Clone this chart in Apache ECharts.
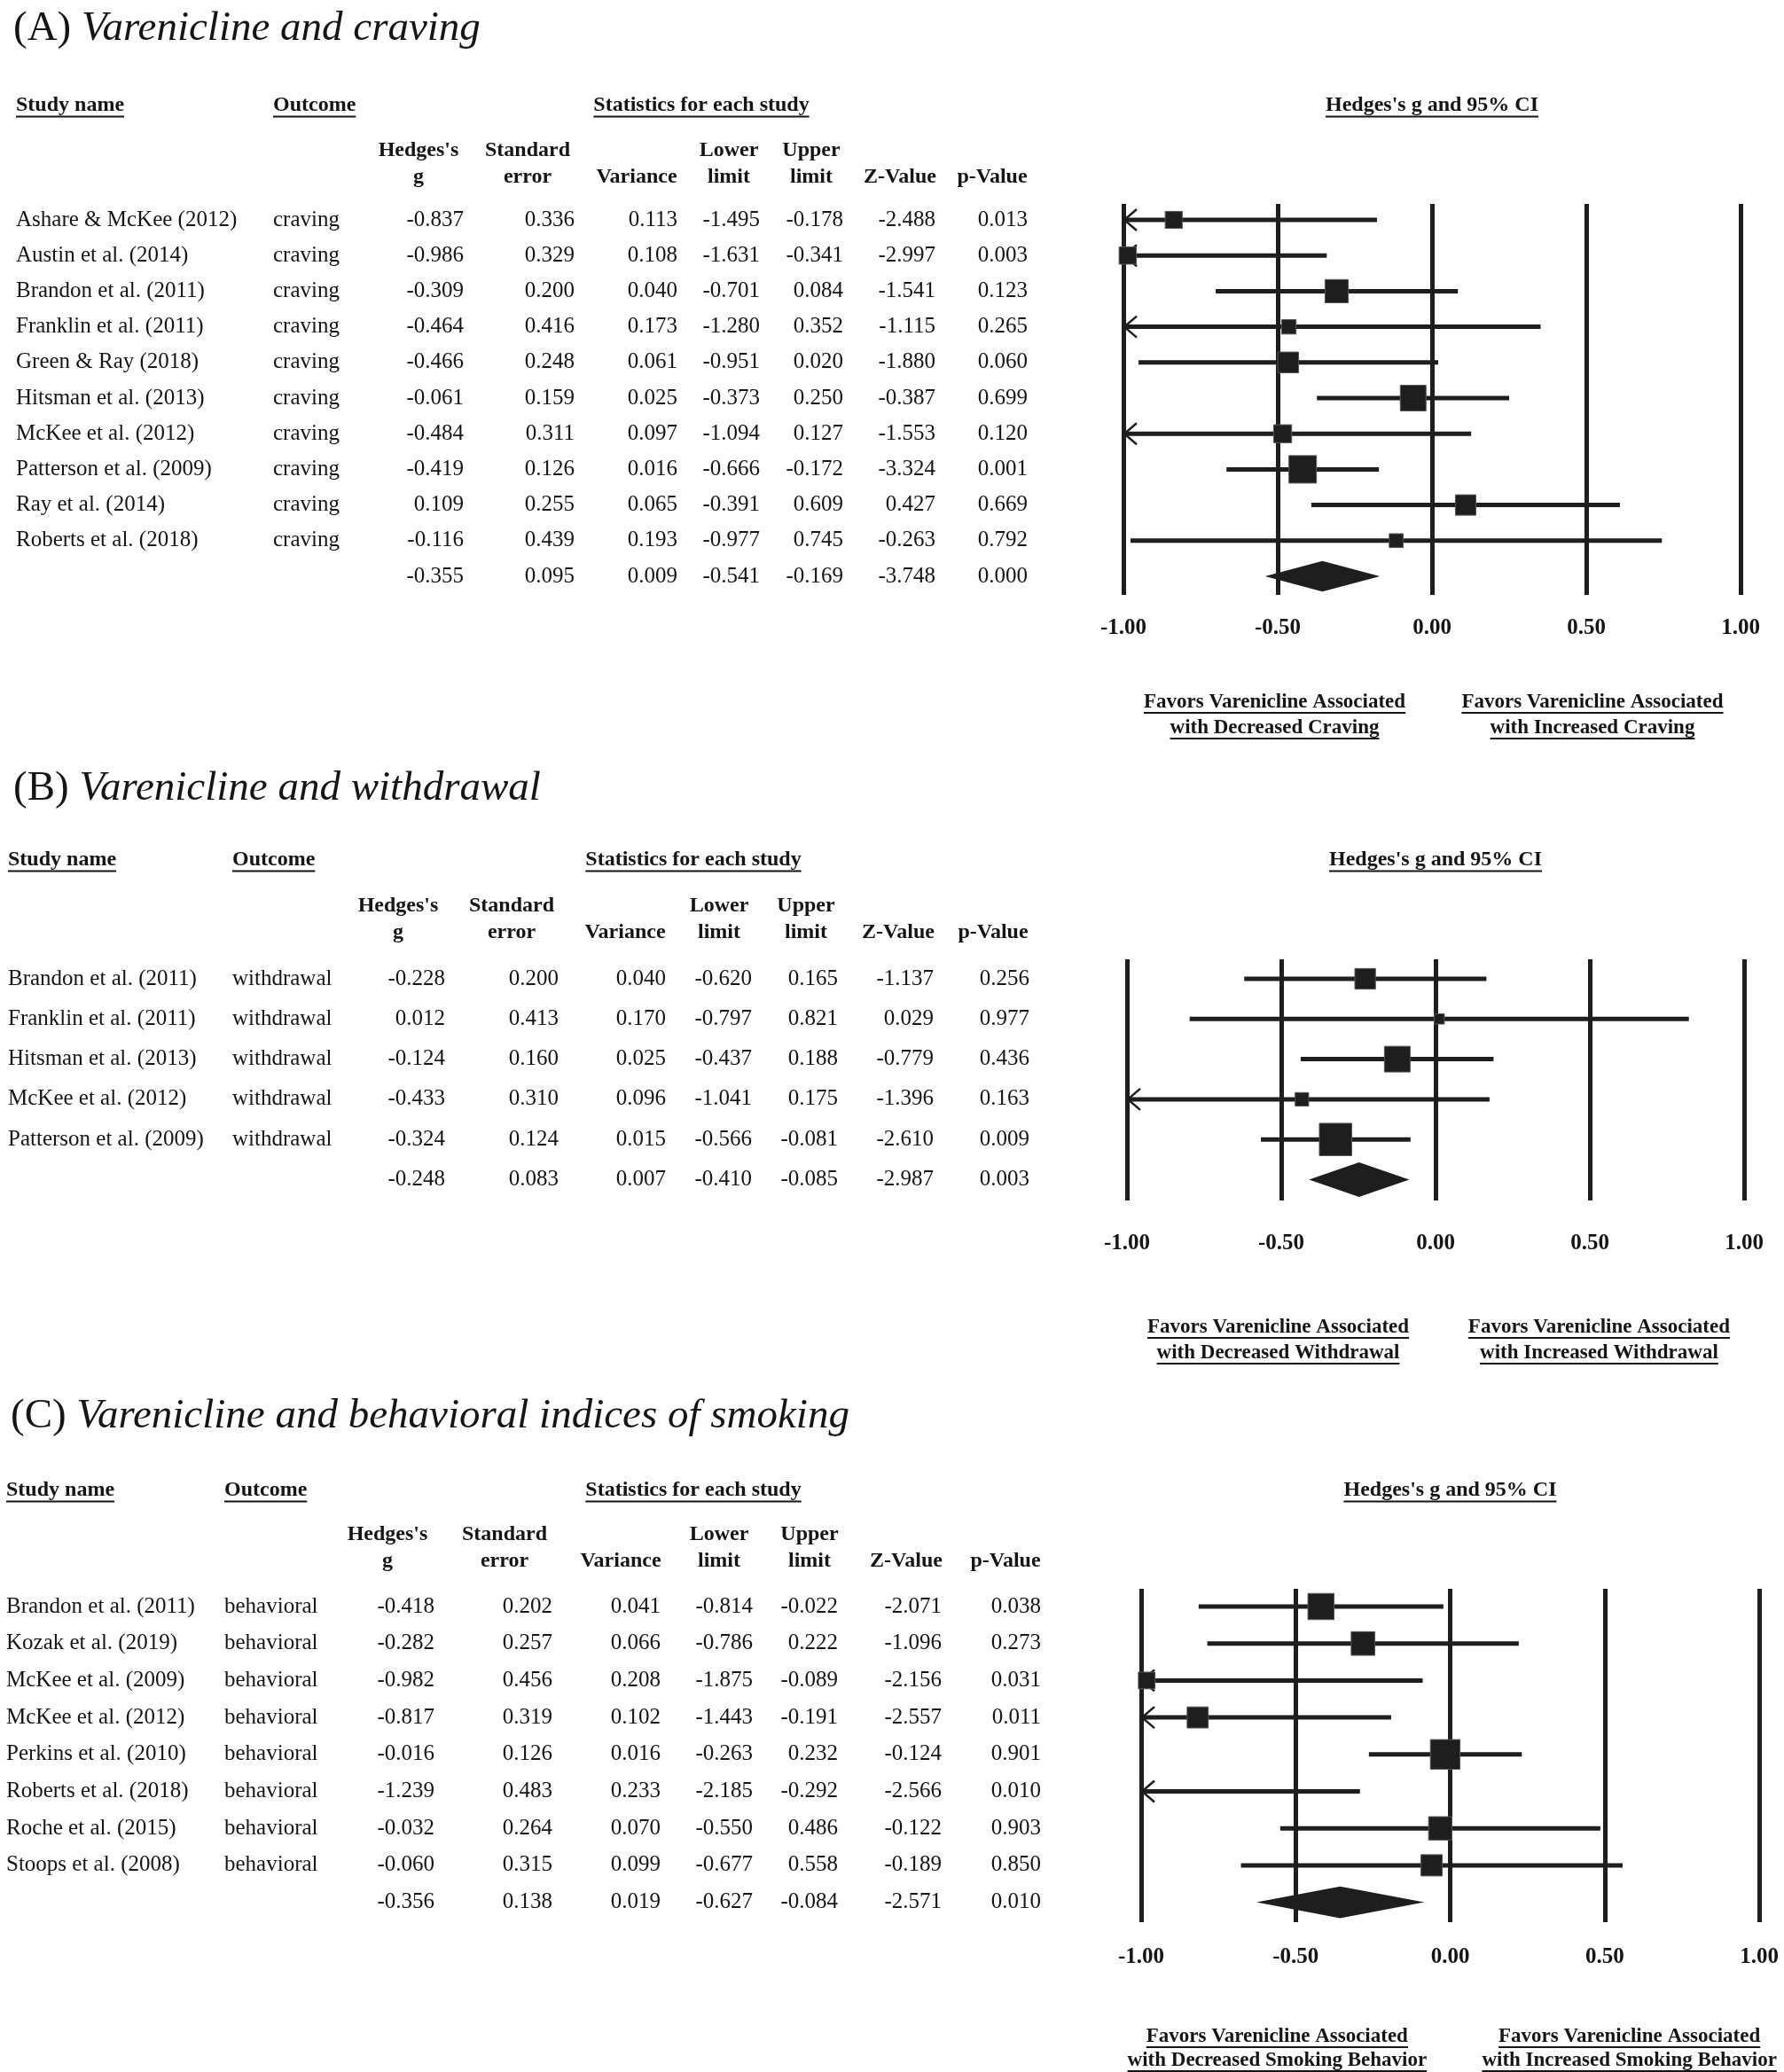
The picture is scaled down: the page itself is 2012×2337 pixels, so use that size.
<!DOCTYPE html>
<html><head><meta charset="utf-8">
<script src="https://cdn.jsdelivr.net/npm/echarts@6/dist/echarts.min.js"></script>
<style>html,body{margin:0;padding:0;background:#fff}#c{width:2012px;height:2337px}</style>
</head><body><div id="c"></div>
<script>
// ---------------- DATA ----------------
const colHeadLine1 = ["Hedges's", 'Standard', '', 'Lower', 'Upper', '', ''];
const colHeadLine2 = ['g', 'error', 'Variance', 'limit', 'limit', 'Z-Value', 'p-Value'];
const forestTicks = [-1, -0.5, 0, 0.5, 1];

// (A) craving
const studiesA = ['Ashare & McKee (2012)', 'Austin et al. (2014)', 'Brandon et al. (2011)', 'Franklin et al. (2011)', 'Green & Ray (2018)', 'Hitsman et al. (2013)', 'McKee et al. (2012)', 'Patterson et al. (2009)', 'Ray et al. (2014)', 'Roberts et al. (2018)'];
const outcomeA = ['craving', 'craving', 'craving', 'craving', 'craving', 'craving', 'craving', 'craving', 'craving', 'craving'];
const gA   = [-0.837, -0.986, -0.309, -0.464, -0.466, -0.061, -0.484, -0.419, 0.109, -0.116];
const seA  = [0.336, 0.329, 0.200, 0.416, 0.248, 0.159, 0.311, 0.126, 0.255, 0.439];
const varA = [0.113, 0.108, 0.040, 0.173, 0.061, 0.025, 0.097, 0.016, 0.065, 0.193];
const llA  = [-1.495, -1.631, -0.701, -1.280, -0.951, -0.373, -1.094, -0.666, -0.391, -0.977];
const ulA  = [-0.178, -0.341, 0.084, 0.352, 0.020, 0.250, 0.127, -0.172, 0.609, 0.745];
const zA   = [-2.488, -2.997, -1.541, -1.115, -1.880, -0.387, -1.553, -3.324, 0.427, -0.263];
const pA   = [0.013, 0.003, 0.123, 0.265, 0.060, 0.699, 0.120, 0.001, 0.669, 0.792];
const summaryA = [-0.355, 0.095, 0.009, -0.541, -0.169, -3.748, 0.000];
const footA = [['Favors Varenicline Associated', 'with Decreased Craving'], ['Favors Varenicline Associated', 'with Increased Craving']];

// (B) withdrawal
const studiesB = ['Brandon et al. (2011)', 'Franklin et al. (2011)', 'Hitsman et al. (2013)', 'McKee et al. (2012)', 'Patterson et al. (2009)'];
const outcomeB = ['withdrawal', 'withdrawal', 'withdrawal', 'withdrawal', 'withdrawal'];
const gB   = [-0.228, 0.012, -0.124, -0.433, -0.324];
const seB  = [0.200, 0.413, 0.160, 0.310, 0.124];
const varB = [0.040, 0.170, 0.025, 0.096, 0.015];
const llB  = [-0.620, -0.797, -0.437, -1.041, -0.566];
const ulB  = [0.165, 0.821, 0.188, 0.175, -0.081];
const zB   = [-1.137, 0.029, -0.779, -1.396, -2.610];
const pB   = [0.256, 0.977, 0.436, 0.163, 0.009];
const summaryB = [-0.248, 0.083, 0.007, -0.410, -0.085, -2.987, 0.003];
const footB = [['Favors Varenicline Associated', 'with Decreased Withdrawal'], ['Favors Varenicline Associated', 'with Increased Withdrawal']];

// (C) behavioral
const studiesC = ['Brandon et al. (2011)', 'Kozak et al. (2019)', 'McKee et al. (2009)', 'McKee et al. (2012)', 'Perkins et al. (2010)', 'Roberts et al. (2018)', 'Roche et al. (2015)', 'Stoops et al. (2008)'];
const outcomeC = ['behavioral', 'behavioral', 'behavioral', 'behavioral', 'behavioral', 'behavioral', 'behavioral', 'behavioral'];
const gC   = [-0.418, -0.282, -0.982, -0.817, -0.016, -1.239, -0.032, -0.060];
const seC  = [0.202, 0.257, 0.456, 0.319, 0.126, 0.483, 0.264, 0.315];
const varC = [0.041, 0.066, 0.208, 0.102, 0.016, 0.233, 0.070, 0.099];
const llC  = [-0.814, -0.786, -1.875, -1.443, -0.263, -2.185, -0.550, -0.677];
const ulC  = [-0.022, 0.222, -0.089, -0.191, 0.232, -0.292, 0.486, 0.558];
const zC   = [-2.071, -1.096, -2.156, -2.557, -0.124, -2.566, -0.122, -0.189];
const pC   = [0.038, 0.273, 0.031, 0.011, 0.901, 0.010, 0.903, 0.850];
const summaryC = [-0.356, 0.138, 0.019, -0.627, -0.084, -2.571, 0.010];
const footC = [['Favors Varenicline Associated', 'with Decreased Smoking Behavior'], ['Favors Varenicline Associated', 'with Increased Smoking Behavior']];

// ---------------- LAYOUT / STYLE ----------------
const W = 2012;
const FONT = '"Liberation Serif", "Times New Roman", serif';
const INK = '#151515';
const layoutA = {titleX:15, titleY:33, sectY:119, head1Y:170, head2Y:200, y0:248, S:40.2, lineTop:230, lineBot:671, tickY:709, foot1Y:792, foot2Y:821,
  xMinus1:1267, xPlus1:1963, studyX:18, outX:308, numR:[523,648,764,857,951,1055,1159], headC:[472,595,718,822,915,1015,1119], statC:791, footX:[-0.51,0.52], boxK:7.6, tau2:0.044};
const layoutB = {titleX:15, titleY:890, sectY:970, head1Y:1022, head2Y:1052, y0:1104, S:45.3, lineTop:1082, lineBot:1354, tickY:1403, foot1Y:1497, foot2Y:1526,
  xMinus1:1271, xPlus1:1967, studyX:9, outX:262, numR:[502,630,751,848,945,1053,1161], headC:[449,577,705,811,909,1013,1120], statC:782, footX:[-0.51,0.53], boxK:4.76, tau2:0.002};
const layoutC = {titleX:12, titleY:1598, sectY:1681, head1Y:1731, head2Y:1761, y0:1812, S:41.7, lineTop:1792, lineBot:2168, tickY:2208, foot1Y:2297, foot2Y:2324,
  xMinus1:1287, xPlus1:1984, studyX:7, outX:253, numR:[490,623,745,849,945,1062,1174], headC:[437,569,700,811,913,1022,1134], statC:782, footX:[-0.56,0.58], boxK:9.95, tau2:0.073};
const TITLE_SIZE = 47;

const panels = [
  {label:'(A)', title:'Varenicline and craving', studies:studiesA, outcomes:outcomeA, g:gA, cols:[gA,seA,varA,llA,ulA,zA,pA], v:varA, ll:llA, ul:ulA, summary:summaryA, foot:footA, L:layoutA},
  {label:'(B)', title:'Varenicline and withdrawal', studies:studiesB, outcomes:outcomeB, g:gB, cols:[gB,seB,varB,llB,ulB,zB,pB], v:varB, ll:llB, ul:ulB, summary:summaryB, foot:footB, L:layoutB},
  {label:'(C)', title:'Varenicline and behavioral indices of smoking', studies:studiesC, outcomes:outcomeC, g:gC, cols:[gC,seC,varC,llC,ulC,zC,pC], v:varC, ll:llC, ul:ulC, summary:summaryC, foot:footC, L:layoutC}
];

// ---------------- HELPERS ----------------
const mctx = document.createElement('canvas').getContext('2d');
function fontStr(c) { return (c.italic ? 'italic ' : '') + (c.bold ? 'bold ' : '') + c.size + 'px ' + FONT; }
function textWidth(t, c) { mctx.font = fontStr(c); return mctx.measureText(t).width; }
function makeText(x, y, c) {
  const el = {type:'text', x:x, y:y, style:{text:c.text, fill:INK, fontSize:c.size, fontFamily:FONT,
    fontWeight:c.bold ? 'bold' : 'normal', fontStyle:c.italic ? 'italic' : 'normal', align:c.align || 'left', verticalAlign:'middle'}};
  if (!c.underline) return el;
  const w = textWidth(c.text, c);
  const a = c.align || 'left';
  const x0 = a === 'left' ? x : (a === 'right' ? x - w : x - w / 2);
  const uy = y + c.size * 0.52;
  return {type:'group', children:[el, {type:'line', shape:{x1:x0, y1:uy, x2:x0 + w, y2:uy}, style:{stroke:INK, lineWidth:2}}]};
}

// ---------------- OPTION ----------------
const option = {backgroundColor:'#ffffff', animation:false, grid:[], xAxis:[], yAxis:[], series:[]};

panels.forEach(function (P) {
  const L = P.L;
  const row = function (py) { return (py - L.y0) / L.S; };
  const yMin = row(L.lineTop), yMax = row(L.lineBot);
  const gi = option.grid.length;
  option.grid.push({left:0, top:L.lineTop, width:W, height:L.lineBot - L.lineTop});
  option.grid.push({left:L.xMinus1, top:L.lineTop, width:L.xPlus1 - L.xMinus1, height:L.lineBot - L.lineTop});
  option.xAxis.push({type:'value', gridIndex:gi, min:0, max:W, show:false});
  option.xAxis.push({type:'value', gridIndex:gi + 1, min:forestTicks[0], max:forestTicks[forestTicks.length - 1], interval:0.5,
    axisLine:{show:false}, axisTick:{show:false},
    splitLine:{show:true, showMinLine:true, showMaxLine:true, lineStyle:{color:'#1e1e1e', width:5}},
    axisLabel:{show:true, showMinLabel:true, showMaxLabel:true, formatter:function (v) { return v.toFixed(2); },
      fontFamily:FONT, fontWeight:'bold', fontSize:25, color:INK, margin:L.tickY - L.lineBot - 13}});
  option.yAxis.push({type:'value', gridIndex:gi, inverse:true, min:yMin, max:yMax, show:false});
  option.yAxis.push({type:'value', gridIndex:gi + 1, inverse:true, min:yMin, max:yMax, show:false});

  // table cells
  const cells = [];
  const tc = {size:TITLE_SIZE};
  cells.push({x:L.titleX, y:row(L.titleY), text:P.label, size:TITLE_SIZE});
  cells.push({x:L.titleX + textWidth(P.label + ' ', tc), y:row(L.titleY), text:P.title, size:TITLE_SIZE, italic:true});
  cells.push({x:L.studyX, y:row(L.sectY), text:'Study name', size:24, bold:true, underline:true});
  cells.push({x:L.outX, y:row(L.sectY), text:'Outcome', size:24, bold:true, underline:true});
  cells.push({x:L.statC, y:row(L.sectY), text:'Statistics for each study', size:24, bold:true, underline:true, align:'center'});
  colHeadLine1.forEach(function (t, j) { if (t) cells.push({x:L.headC[j], y:row(L.head1Y), text:t, size:24, bold:true, align:'center'}); });
  colHeadLine2.forEach(function (t, j) { if (t) cells.push({x:L.headC[j], y:row(L.head2Y), text:t, size:24, bold:true, align:'center'}); });
  P.studies.forEach(function (s, i) {
    cells.push({x:L.studyX, y:i, text:s, size:25});
    cells.push({x:L.outX, y:i, text:P.outcomes[i], size:25});
    P.cols.forEach(function (col, j) { cells.push({x:L.numR[j], y:i, text:col[i].toFixed(3), size:25, align:'right'}); });
  });
  const n = P.studies.length;
  P.summary.forEach(function (v, j) { cells.push({x:L.numR[j], y:n, text:v.toFixed(3), size:25, align:'right'}); });

  option.series.push({type:'custom', xAxisIndex:gi, yAxisIndex:gi, clip:false, silent:true,
    data:cells.map(function (c) { return [c.x, c.y]; }),
    renderItem:function (params, api) {
      const c = cells[params.dataIndex];
      const p = api.coord([api.value(0), api.value(1)]);
      return makeText(p[0], p[1], c);
    }});

  // forest studies
  option.series.push({type:'custom', xAxisIndex:gi + 1, yAxisIndex:gi + 1, clip:false, silent:true,
    encode:{x:[0, 2, 3], y:1},
    data:P.studies.map(function (s, i) { return [P.g[i], i, P.ll[i], P.ul[i], P.v[i]]; }),
    renderItem:function (params, api) {
      const g = api.value(0), r = api.value(1), lo = api.value(2), hi = api.value(3), vr = api.value(4);
      const a = api.coord([Math.max(lo, -1), r]), b = api.coord([Math.min(hi, 1), r]);
      const ch = [{type:'line', shape:{x1:a[0], y1:a[1], x2:b[0], y2:b[1]}, style:{stroke:'#1e1e1e', lineWidth:5}}];
      if (lo < -1) ch.push({type:'polyline', shape:{points:[[a[0] + 15, a[1] - 12], [a[0] + 1, a[1]], [a[0] + 15, a[1] + 12]]}, style:{stroke:'#1e1e1e', lineWidth:2.5, fill:null}});
      if (hi > 1) ch.push({type:'polyline', shape:{points:[[b[0] - 15, b[1] - 12], [b[0] - 1, b[1]], [b[0] - 15, b[1] + 12]]}, style:{stroke:'#1e1e1e', lineWidth:2.5, fill:null}});
      if (g >= -1 && g <= 1) {
        const c = api.coord([g, r]);
        const sz = L.boxK / Math.sqrt(vr + L.tau2);
        ch.push({type:'rect', shape:{x:c[0] - sz / 2, y:c[1] - sz / 2, width:sz, height:sz}, style:{fill:'#1e1e1e', stroke:'#555', lineWidth:1}});
      }
      return {type:'group', children:ch};
    }});

  // forest summary diamond
  option.series.push({type:'custom', xAxisIndex:gi + 1, yAxisIndex:gi + 1, clip:false, silent:true,
    encode:{x:[0, 2, 3], y:1},
    data:[[P.summary[0], n, P.summary[3], P.summary[4]]],
    renderItem:function (params, api) {
      const r = api.value(1);
      const c = api.coord([api.value(0), r]);
      const lo = api.coord([api.value(2), r]), hi = api.coord([api.value(3), r]);
      const h = api.size([0, 1])[1] * 0.86;
      return {type:'polygon', shape:{points:[[lo[0], c[1]], [c[0], c[1] - h / 2], [hi[0], c[1]], [c[0], c[1] + h / 2]]}, style:{fill:'#1e1e1e'}};
    }});

  // forest texts (header + footers)
  const ftexts = [
    {x:0, y:row(L.sectY), text:"Hedges's g and 95% CI", size:24, bold:true, underline:true, align:'center'},
    {x:L.footX[0], y:row(L.foot1Y), text:P.foot[0][0], size:23, bold:true, underline:true, align:'center'},
    {x:L.footX[0], y:row(L.foot2Y), text:P.foot[0][1], size:23, bold:true, underline:true, align:'center'},
    {x:L.footX[1], y:row(L.foot1Y), text:P.foot[1][0], size:23, bold:true, underline:true, align:'center'},
    {x:L.footX[1], y:row(L.foot2Y), text:P.foot[1][1], size:23, bold:true, underline:true, align:'center'}
  ];
  option.series.push({type:'custom', xAxisIndex:gi + 1, yAxisIndex:gi + 1, clip:false, silent:true,
    data:ftexts.map(function (c) { return [c.x, c.y]; }),
    renderItem:function (params, api) {
      const c = ftexts[params.dataIndex];
      const p = api.coord([api.value(0), api.value(1)]);
      return makeText(p[0], p[1], c);
    }});
});

const chart = echarts.init(document.getElementById('c'), null, {renderer:'canvas', width:2012, height:2337});
chart.setOption(option);
</script></body></html>
